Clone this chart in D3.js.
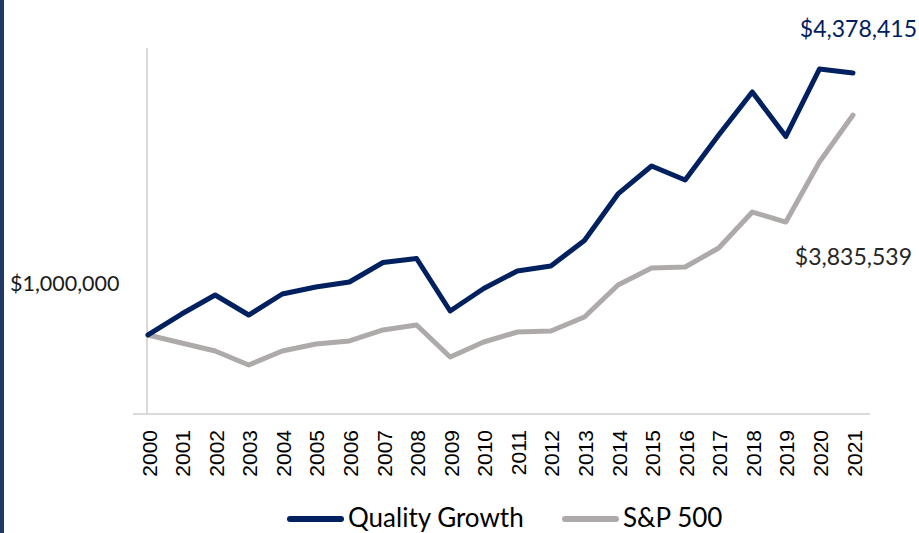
<!DOCTYPE html>
<html>
<head>
<meta charset="utf-8">
<script src="https://cdn.jsdelivr.net/npm/d3@7.9.0/dist/d3.min.js"></script>
<style>
  body { margin: 0; background: #fff; }
  svg { display: block; }
</style>
</head>
<body>
<div id="chart"></div>
<script>
const years = d3.range(2000, 2022).map(String);

const qualityGrowth = [
  1000000, 1270000, 1515000, 1257000, 1528000, 1618000, 1683000, 1934000,
  1986000, 1309000, 1599000, 1825000, 1889000, 2218000, 2818000, 3179000,
  2998000, 3578000, 4133000, 3559000, 4429000, 4378415
];

const sp500 = [
  1000000, 896000, 793000, 613000, 793000, 883000, 922000, 1064000,
  1128000, 716000, 909000, 1038000, 1051000, 1231000, 1644000, 1863000,
  1876000, 2121000, 2585000, 2456000, 3230000, 3835539
];

const seriesNames = ["Quality Growth", "S&P 500"];
const seriesColors = ["#002060", "#AEAAAA"];

const width = 919;
const height = 533;

const labelFont = "Lato, 'Open Sans', sans-serif";

const svg = d3.select("#chart")
  .append("svg")
  .attr("width", width)
  .attr("height", height);

// dark strip on the left edge
svg.append("rect")
  .attr("x", 0).attr("y", 0)
  .attr("width", 4).attr("height", height)
  .attr("fill", "#1F3864");

const xScale = d3.scalePoint()
  .domain(years)
  .range([148, 853]);

const yScale = d3.scaleLinear()
  .domain([0, 4700000])
  .range([412.5, 48]);

// axes (plain lines, no ticks)
svg.append("line")
  .attr("x1", 147).attr("x2", 147)
  .attr("y1", 48).attr("y2", 413)
  .attr("stroke", "#d9d9d9").attr("stroke-width", 2);

svg.append("line")
  .attr("x1", 133).attr("x2", 870)
  .attr("y1", 414).attr("y2", 414)
  .attr("stroke", "#d9d9d9").attr("stroke-width", 2);

// year labels
svg.append("g")
  .selectAll("text")
  .data(years)
  .join("text")
  .attr("transform", d => `translate(${xScale(d) + 1},430) rotate(-90)`)
  .attr("text-anchor", "end")
  .attr("dominant-baseline", "central")
  .style("font-family", "'Liberation Sans', Arial, sans-serif")
  .style("font-size", "21px")
  .attr("fill", "#000")
  .text(d => d);

const line = d3.line()
  .x((d, i) => xScale(years[i]))
  .y(d => yScale(d));

// gray first so the navy line sits on top
[sp500, qualityGrowth].forEach((vals, k) => {
  svg.append("path")
    .datum(vals)
    .attr("d", line)
    .attr("fill", "none")
    .attr("stroke", k === 0 ? seriesColors[1] : seriesColors[0])
    .attr("stroke-width", 5)
    .attr("stroke-linejoin", "round")
    .attr("stroke-linecap", "round");
});

// value labels
svg.append("text")
  .attr("x", 917).attr("y", 37)
  .attr("text-anchor", "end")
  .style("font-family", labelFont)
  .style("font-size", "23px")
  .attr("fill", "#002060")
  .text(d3.format("$,")(qualityGrowth[qualityGrowth.length - 1]));

svg.append("text")
  .attr("x", 912).attr("y", 265)
  .attr("text-anchor", "end")
  .style("font-family", labelFont)
  .style("font-size", "23px")
  .attr("fill", "#262626")
  .text(d3.format("$,")(sp500[sp500.length - 1]));

svg.append("text")
  .attr("x", 10).attr("y", 291)
  .style("font-family", labelFont)
  .style("font-size", "21.5px")
  .attr("fill", "#1a1a1a")
  .text(d3.format("$,")(qualityGrowth[0]));

// legend
const legend = svg.append("g");
const legendItems = [
  { name: seriesNames[0], color: seriesColors[0], x: 290 },
  { name: seriesNames[1], color: seriesColors[1], x: 565 }
];

legendItems.forEach(item => {
  legend.append("line")
    .attr("x1", item.x).attr("x2", item.x + 51)
    .attr("y1", 519).attr("y2", 519)
    .attr("stroke", item.color)
    .attr("stroke-width", 6)
    .attr("stroke-linecap", "round");
  legend.append("text")
    .attr("x", item.x + 58).attr("y", 527)
    .style("font-family", labelFont)
    .style("font-size", "26px")
    .attr("fill", "#000")
    .text(item.name);
});
</script>
</body>
</html>
